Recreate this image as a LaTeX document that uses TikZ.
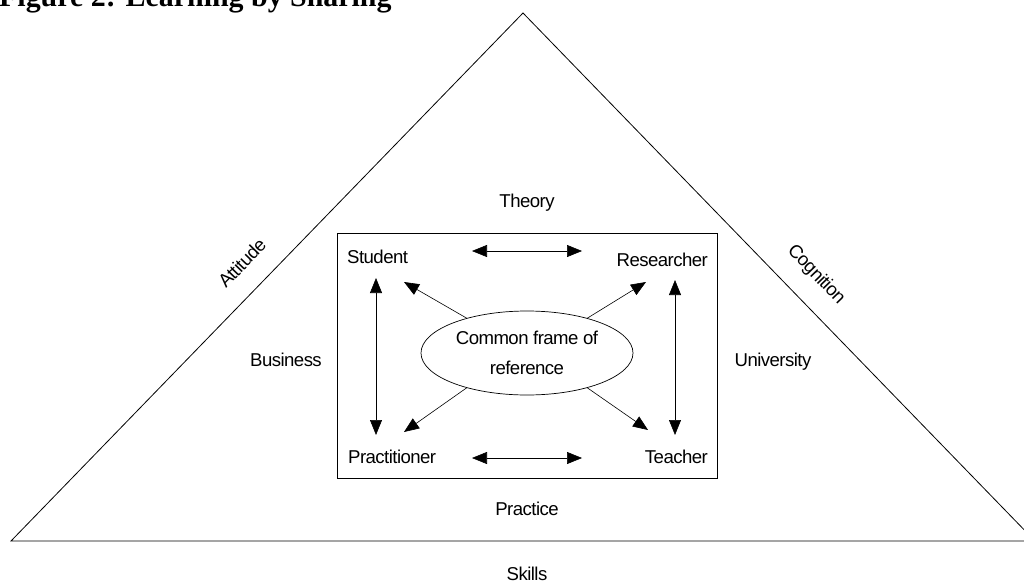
\documentclass[tikz,border=0pt]{standalone}
\usepackage{fontspec}
\setmainfont[LetterSpace=-3]{Liberation Sans}
\newfontfamily\titlefont{Liberation Serif}
\usetikzlibrary{arrows.meta,shapes.geometric}
\tikzset{
  lbl/.style={font=\fontsize{18.6}{30}\selectfont, inner sep=0pt},
  arr/.style={line width=0.6pt, {Triangle[length=15pt,width=12pt]}-{Triangle[length=15pt,width=12pt]}},
  oarr/.style={line width=0.6pt, -{Triangle[length=15pt,width=12pt]}},
  frame/.style={line width=0.8pt}
}
\begin{document}
\begin{tikzpicture}[x=1pt,y=-1pt]
\useasboundingbox (0,0) rectangle (1024,583);
\clip (0,0) rectangle (1024,583);
\fill[white] (0,0) rectangle (1024,583);
% title
\node[anchor=base west, inner sep=0pt, font=\titlefont\bfseries\fontsize{29.9}{32}\selectfont] (title) at (-1,7) {Figure 2: Learning by Sharing};
% triangle
\coordinate (apex) at (523,13);
\coordinate (bl) at (11,541);
\coordinate (br) at (1035,541);
\draw[frame] (bl) -- (apex) -- (br) -- cycle;
% box
\draw[frame] (337,233) rectangle (717,478);
% ellipse
\node[ellipse, draw, line width=0.7pt, minimum width=212pt, minimum height=84pt, inner sep=0pt, align=center, lbl] (ell) at (527,353) {Common frame of\\reference};
% corner labels
\node[lbl, anchor=base west] (student) at (347,263) {Student};
\node[lbl, anchor=base east] (researcher) at (708,266) {Researcher};
\node[lbl, anchor=base west] (practitioner) at (348,463) {Practitioner};
\node[lbl, anchor=base east] (teacher) at (708,463) {Teacher};
% outer labels
\node[lbl, anchor=base] (theory) at (527,207) {Theory};
\node[lbl, anchor=base] (practice) at (527,515) {Practice};
\node[lbl, anchor=base] (business) at (286,366) {Business};
\node[lbl, anchor=base] (university) at (773,366) {University};
\node[lbl, anchor=base] (skills) at (527,580) {Skills};
\node[lbl, rotate=46] (attitude) at (242,263) {Attitude};
\node[lbl, rotate=-46] (cognition) at (816,275) {Cognition};
% arrow end points
\coordinate (th1) at (472,251); \coordinate (th2) at (582,251);
\coordinate (bh1) at (472,458); \coordinate (bh2) at (582,458);
\coordinate (lv1) at (376,278); \coordinate (lv2) at (376,435);
\coordinate (rv1) at (675,280); \coordinate (rv2) at (675,435);
\coordinate (nw) at (404,282); \coordinate (ne) at (646,282);
\coordinate (sw) at (404,432); \coordinate (se) at (648,430);
\draw[arr] (th1) -- (th2);
\draw[arr] (bh1) -- (bh2);
\draw[arr] (lv1) -- (lv2);
\draw[arr] (rv1) -- (rv2);
\draw[oarr] (ell.150) -- (nw);
\draw[oarr] (ell.30) -- (ne);
\draw[oarr] (ell.210) -- (sw);
\draw[oarr] (ell.330) -- (se);
\end{tikzpicture}
\end{document}
